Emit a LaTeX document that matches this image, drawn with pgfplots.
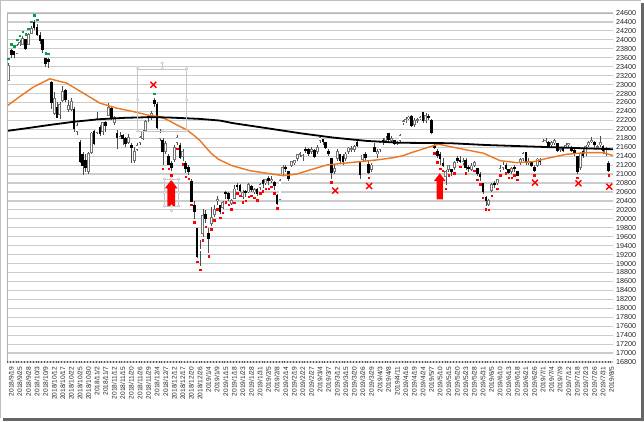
\documentclass[border=0pt]{standalone}
\usepackage{pgfplots}
\usepackage{pgfplotstable}
\pgfplotsset{compat=1.18}
\usepackage{fontspec}
\setmainfont{Liberation Sans}
\definecolor{maorange}{RGB}{237,118,33}
\definecolor{dotgreen}{RGB}{0,160,80}
\pgfplotstableread{
i O H L C G R
-1 23100 23480 23080 23420 1 0
0 23760 23800 23600 23672 1 0
1 23750 23760 23600 23674 1 0
2 23700 23900 23690 23869 1 0
3 23890 23990 23860 23940 1 0
4 23900 24080 23880 24033 1 0
5 24010 24030 23780 23796 1 0
6 23900 24150 23880 24120 1 0
7 24150 24306 24140 24245 1 0
8 24400 24448 24230 24270 1 0
9 24270 24350 24090 24110 1 0
10 24100 24170 23900 23975 0 0
11 24000 24020 23700 23783 0 0
12 23580 23600 23400 23469 1 0
13 23560 23590 23380 23506 1 0
14 23050 23090 22460 22590 0 0
15 22350 22840 22330 22694 0 0
16 22500 22600 22260 22271 0 0
17 22330 22600 22220 22549 0 0
18 22650 22960 22600 22841 0 0
19 22860 22900 22620 22658 0 0
20 22440 22660 22380 22532 0 0
21 22450 22700 22400 22614 0 0
22 22450 22500 21950 22010 0 0
23 21950 22150 21880 22091 0 0
24 21700 21760 21250 21268 0 0
25 21450 21500 20971 21184 0 0
26 21300 21450 21040 21149 0 0
27 21050 21500 21000 21457 0 0
28 21480 21950 21450 21920 0 0
29 21950 21990 21660 21687 0 0
30 21930 22380 21900 22243 0 0
31 22040 22090 21860 21898 0 0
32 21950 22170 21880 22147 0 0
33 22150 22180 21950 22085 0 0
34 22300 22580 22290 22486 0 0
35 22480 22500 22200 22250 0 0
36 22150 22300 22100 22269 0 0
37 21900 21980 21550 21810 0 0
38 21800 21930 21780 21846 0 0
39 21870 21900 21650 21803 0 0
40 21800 21820 21600 21680 0 0
41 21700 21900 21680 21821 0 0
42 21650 21700 21250 21583 0 0
43 21300 21600 21250 21507 0 0
44 21550 21700 21520 21646 0 0
45 21700 21850 21650 21812 0 0
46 21800 21990 21760 21952 0 0
47 21980 22200 21960 22177 0 0
48 22300 22330 22160 22262 0 0
49 22280 22400 22200 22351 0 0
50 22650 22700 22500 22574 1 0
51 22550 22600 22000 22036 0 0
52 21800 22000 21750 21919 0 0
53 21760 21800 21200 21501 0 1
54 21500 21750 21460 21678 0 0
55 21400 21450 21200 21219 0 1
56 21250 21300 21060 21148 0 1
57 21320 21650 21280 21602 0 0
58 21700 21870 21650 21816 0 1
59 21650 21700 21340 21374 0 0
60 21400 21560 21300 21506 0 1
61 21250 21300 21020 21115 0 1
62 21150 21200 20980 21060 0 1
63 20830 20900 20400 20392 0 1
64 20300 20400 20000 20166 0 1
65 19785 19790 19117 19155 0 1
66 19302 19530 18948 19327 0 1
67 19680 20220 19600 20077 0 1
68 20100 20200 19900 20014 0 1
69 19680 19800 19241 19561 0 1
70 19900 20270 19850 20038 0 1
71 20100 20300 20050 20204 0 1
72 20400 20500 20300 20427 0 1
73 20290 20300 20100 20163 0 1
74 20250 20400 20220 20359 0 1
75 20600 20620 20450 20555 0 1
76 20570 20600 20400 20442 0 1
77 20350 20450 20300 20402 0 1
78 20460 20750 20440 20666 0 1
79 20750 20800 20650 20719 0 1
80 20750 20780 20600 20622 0 1
81 20500 20650 20450 20593 0 1
82 20620 20650 20480 20574 0 1
83 20600 20800 20580 20773 0 1
84 20720 20750 20600 20649 0 1
85 20600 20700 20550 20664 0 1
86 20650 20700 20500 20556 0 1
87 20700 20800 20650 20773 0 1
88 20850 20900 20700 20788 0 1
89 20800 20900 20750 20883 0 1
90 20900 20950 20750 20844 0 1
91 20850 20950 20800 20874 0 1
92 20820 20850 20650 20751 0 1
93 20530 20550 20315 20333 0 1
94 20430 20900 20420 20864 0 0
95 21000 21200 20980 21144 0 0
96 21150 21200 21050 21139 0 0
97 21050 21080 20850 20900 0 0
98 21200 21300 21150 21281 0 0
99 21250 21320 21200 21302 0 0
100 21350 21450 21300 21431 0 0
101 21450 21500 21380 21464 0 0
102 21400 21450 21300 21425 0 0
103 21550 21600 21480 21528 0 0
104 21550 21580 21400 21449 0 0
105 21500 21600 21450 21556 0 0
106 21540 21560 21360 21385 0 0
107 21500 21650 21450 21602 0 0
108 21750 21860 21700 21822 0 0
109 21780 21790 21650 21726 0 0
110 21700 21720 21550 21596 0 0
111 21500 21550 21400 21456 0 0
112 21360 21360 20900 21025 0 1
113 21050 21200 21000 21125 0 0
114 21340 21550 21300 21503 0 0
115 21430 21450 21250 21290 0 0
116 21400 21450 21200 21287 0 0
117 21350 21500 21300 21450 0 0
118 21500 21600 21450 21584 0 0
119 21550 21620 21500 21566 0 0
120 21550 21650 21500 21608 0 0
121 21720 21740 21600 21627 0 0
122 21280 21280 20900 20977 0 0
123 21320 21450 21300 21428 0 0
124 21450 21500 21300 21378 0 0
125 21225 21300 21000 21033 0 1
126 21100 21250 21050 21205 0 0
127 21600 21700 21500 21509 0 0
128 21450 21550 21350 21505 0 0
129 21550 21750 21500 21713 0 0
130 21750 21800 21650 21724 0 0
131 21750 21850 21700 21807 0 0
132 21900 21920 21700 21761 0 0
133 21750 21850 21700 21802 0 0
134 21750 21770 21650 21687 0 0
135 21700 21750 21650 21711 0 0
136 21750 21900 21700 21870 0 0
137 22140 22200 22100 22169 0 0
138 22170 22280 22150 22221 0 0
139 22230 22300 22200 22277 0 0
140 22300 22330 22050 22090 0 0
141 22100 22250 22050 22200 0 0
142 22200 22250 22150 22217 0 0
143 22230 22300 22200 22259 0 0
144 22370 22380 22150 22200 0 0
145 22200 22360 22150 22307 0 0
146 22300 22350 22200 22258 0 0
147 22210 22220 21900 21923 0 0
148 21650 21700 21550 21602 0 1
149 21500 21550 21350 21402 0 1
150 21450 21500 21200 21344 0 1
151 21250 21350 21150 21191 0 1
152 20950 21100 20750 21067 0 1
153 21100 21200 21050 21188 0 1
154 21100 21120 20950 21062 0 0
155 21150 21300 21100 21250 0 1
156 21350 21400 21250 21301 0 0
157 21300 21400 21250 21272 0 1
158 21250 21350 21200 21283 0 0
159 21300 21350 21100 21151 0 1
160 21150 21200 21050 21117 0 0
161 21100 21250 21080 21182 0 0
162 21200 21300 21150 21260 0 1
163 21130 21140 20950 21003 0 1
164 21000 21050 20850 20942 0 1
165 20800 20800 20550 20601 0 1
166 20470 20500 20290 20410 0 1
167 20320 20450 20280 20408 0 1
168 20640 20800 20600 20776 0 1
169 20800 20850 20700 20774 0 0
170 20800 20900 20750 20884 0 1
171 21100 21200 21050 21134 0 1
172 21150 21270 21100 21204 0 0
173 21200 21250 21100 21129 0 1
174 21100 21120 21000 21032 0 1
175 21050 21150 21000 21116 0 1
176 21150 21200 21050 21124 0 1
177 21050 21080 20950 20972 0 1
178 21250 21350 21200 21333 0 0
179 21350 21500 21300 21462 0 0
180 21480 21500 21200 21258 0 0
181 21250 21350 21200 21285 0 0
182 21280 21300 21150 21193 0 0
183 21150 21200 21050 21086 0 1
184 21200 21350 21150 21338 0 0
185 21300 21350 21200 21275 0 0
186 21620 21780 21600 21729 0 0
187 21750 21800 21700 21754 0 0
188 21720 21750 21600 21638 0 0
189 21650 21750 21600 21702 0 0
190 21700 21780 21650 21746 0 0
191 21680 21700 21500 21534 0 0
192 21550 21600 21500 21565 0 0
193 21580 21600 21500 21533 0 0
194 21600 21700 21580 21643 0 0
195 21650 21700 21600 21685 0 0
196 21600 21620 21500 21535 0 0
197 21520 21550 21400 21469 0 0
198 21400 21410 21000 21046 0 1
199 21150 21500 21100 21466 0 0
200 21500 21550 21350 21416 0 0
201 21450 21650 21400 21620 0 0
202 21650 21750 21600 21709 0 0
203 21720 21820 21700 21756 0 0
204 21720 21730 21600 21658 0 0
205 21600 21650 21550 21616 0 0
206 21650 21850 21600 21709 0 0
207 21620 21640 21450 21521 0 0
208 21450 21600 21400 21540 0 0
209 21250 21300 21050 21087 0 1
}\candles
\begin{document}
\begin{tikzpicture}[x=1pt,y=1pt]
\useasboundingbox (0,0) rectangle (644,421);
\fill[black!60] (3,0) rectangle (644,418);
\fill[white] (0,3) rectangle (641,421);
\draw[black!25, line width=0.5pt] (0.25,3) -- (0.25,420.75) -- (641,420.75);
\begin{axis}[
  at={(7pt,59pt)}, anchor=south west,
  scale only axis, width=606pt, height=349pt,
  xmin=-1.5, xmax=210.5, ymin=16800, ymax=24600,
  axis line style={draw=none},
  major tick length=0pt,
  xtick={0,3,...,210},
  xticklabels={2018/9/19,2018/9/25,2018/9/28,2018/10/3,2018/10/9,2018/10/12,2018/10/17,2018/10/22,2018/10/25,2018/10/30,2018/11/2,2018/11/7,2018/11/12,2018/11/15,2018/11/20,2018/11/26,2018/11/29,2018/12/4,2018/12/7,2018/12/12,2018/12/17,2018/12/20,2018/12/26,2019/1/4,2019/1/9,2019/1/15,2019/1/18,2019/1/23,2019/1/28,2019/1/31,2019/2/5,2019/2/8,2019/2/14,2019/2/19,2019/2/22,2019/2/27,2019/3/4,2019/3/7,2019/3/12,2019/3/15,2019/3/20,2019/3/26,2019/3/29,2019/4/3,2019/4/8,2019/4/11,2019/4/16,2019/4/19,2019/4/24,2019/5/7,2019/5/10,2019/5/15,2019/5/20,2019/5/23,2019/5/28,2019/5/31,2019/6/5,2019/6/10,2019/6/13,2019/6/18,2019/6/21,2019/6/26,2019/7/1,2019/7/4,2019/7/9,2019/7/12,2019/7/18,2019/7/23,2019/7/26,2019/7/31,2019/8/5},
  x tick label style={rotate=90, anchor=east, font=\fontsize{6.6}{7}\selectfont, text=black!85, inner xsep=4.5pt, inner ysep=0pt},
  ytick={16800,17000,...,24600},
  yticklabel pos=right,
  scaled y ticks=false,
  /pgf/number format/1000 sep={},
  /pgf/number format/assume math mode=true,
  y tick label style={anchor=west, font=\fontsize{7.2}{8}\selectfont, text=black!85, inner xsep=3pt},
  ymajorgrids,
  major grid style={gray!40, line width=1.2pt},
  clip=true,
]
% wicks
\addplot[draw=none, mark=none, forget plot, error bars/.cd, y dir=both, y explicit, error mark=none,
  error bar style={draw=black!70, line width=0.5pt}]
  table[x=i, y expr={(\thisrow{H}+\thisrow{L})/2}, y error expr={(\thisrow{H}-\thisrow{L})/2}] {\candles};
% white bodies: outline
\addplot[draw=none, mark=none, forget plot, restrict y to domain=10000:30000, error bars/.cd, y dir=both, y explicit, error mark=none,
  error bar style={draw=black!55, line width=2.8pt}]
  table[x=i, y expr={(\thisrow{O}+\thisrow{C})/2 + 10000*(abs(\thisrow{O}-\thisrow{C})-(\thisrow{C}-\thisrow{O}))}, y error expr={abs(\thisrow{O}-\thisrow{C})/2+9}] {\candles};
% white bodies: inside
\addplot[draw=none, mark=none, forget plot, restrict y to domain=10000:30000, error bars/.cd, y dir=both, y explicit, error mark=none,
  error bar style={draw=white, line width=1.2pt}]
  table[x=i, y expr={(\thisrow{O}+\thisrow{C})/2 + 10000*(abs(\thisrow{O}-\thisrow{C})-(\thisrow{C}-\thisrow{O}))}, y error expr={max(abs(\thisrow{O}-\thisrow{C})/2-10,0)}] {\candles};
% black bodies
\addplot[draw=none, mark=none, forget plot, restrict y to domain=10000:30000, error bars/.cd, y dir=both, y explicit, error mark=none,
  error bar style={draw=black, line width=2.6pt}]
  table[x=i, y expr={(\thisrow{O}+\thisrow{C})/2 + 10000*(abs(\thisrow{O}-\thisrow{C})-(\thisrow{O}-\thisrow{C}))}, y error expr={abs(\thisrow{O}-\thisrow{C})/2+8}] {\candles};
% 25-day average
\addplot[maorange, line width=1.4pt, mark=none] coordinates {
(-1.5,22523) (3,22733) (7.7,22943) (13.5,23129) (19.4,23032) (25.2,22809) (31,22585) (36.9,22473) (42.7,22397) (48.5,22308) (52,22285) (55,22200) (57.9,22099) (61.4,21988) (64,21860) (66,21750) (68,21600) (70,21460) (72.5,21330) (77.2,21188) (83.5,21076) (89.4,21018) (95.2,20964) (99.9,21002) (104.5,21092) (110.4,21204) (116.2,21242) (122,21278) (127.9,21316) (133.7,21367) (137,21410) (140,21480) (143,21540) (147.7,21636) (149.4,21667) (153.5,21614) (159.3,21540) (165.2,21466) (171,21300) (176.8,21256) (182.7,21278) (188.5,21367) (194.3,21443) (201.3,21479) (207.1,21479) (210.5,21413)};
% long average
\addplot[black, line width=1.8pt, mark=none] coordinates {
(-1.5,21965) (6,22030) (13.5,22099) (22,22170) (31,22227) (40,22258) (48.5,22272) (55,22265) (60.2,22250) (66,22233) (73,22196) (77.7,22137) (89.4,22026) (101,21913) (112.7,21815) (124.4,21741) (136,21700) (153.6,21690) (166,21650) (182.7,21614) (210.5,21555)};
% dots
\addplot[only marks, mark=square*, mark size=0.75pt, red, restrict y to domain=10000:30000]
  table[x=i, y expr={\thisrow{L}-80+100000*(1-\thisrow{R})}] {\candles};
\addplot[only marks, mark=square*, mark size=0.75pt, dotgreen, restrict y to domain=10000:30000]
  table[x=i, y expr={\thisrow{H}+100+100000*(1-\thisrow{G})}] {\candles};
% crosses
\addplot[only marks, mark=x, mark size=4.2pt, red, line width=1.4pt] coordinates {
(49.7,22995) (113.3,20630) (125.2,20734) (183.2,20808) (198.4,20794) (209.2,20719)};
% arrows
\fill[red] (axis cs:55.95,20868) -- (axis cs:53.75,20683) -- (axis cs:54.6,20683) -- (axis cs:54.6,20286) -- (axis cs:57.3,20286) -- (axis cs:57.3,20683) -- (axis cs:58.15,20683) -- cycle;
\fill[red] (axis cs:149.9,21018) -- (axis cs:147.8,20840) -- (axis cs:148.8,20840) -- (axis cs:148.8,20436) -- (axis cs:151.0,20436) -- (axis cs:151.0,20840) -- (axis cs:152.0,20840) -- cycle;
% selection boxes
\draw[gray!45, line width=0.5pt] (axis cs:44.23,23353) rectangle (axis cs:61.38,21965);
\draw[gray!45, line width=0.5pt] (axis cs:52.8,23353) -- (axis cs:52.8,23481);
\draw[gray!55, fill=white, line width=0.4pt] (axis cs:44.23,23353) circle (1.3pt) (axis cs:52.8,23353) circle (1.3pt) (axis cs:61.38,23353) circle (1.3pt) (axis cs:44.23,22659) circle (1.3pt) (axis cs:61.38,22659) circle (1.3pt) (axis cs:44.23,21965) circle (1.3pt) (axis cs:52.8,21965) circle (1.3pt) (axis cs:61.38,21965) circle (1.3pt) (axis cs:52.8,23481) circle (1.3pt);
\draw[gray!45, line width=0.5pt] (axis cs:53.54,20891) rectangle (axis cs:58.58,20286);
\draw[gray!55, fill=white, line width=0.4pt] (axis cs:53.54,20891) circle (1.3pt) (axis cs:56.06,20891) circle (1.3pt) (axis cs:58.58,20891) circle (1.3pt) (axis cs:53.54,20588) circle (1.3pt) (axis cs:58.58,20588) circle (1.3pt) (axis cs:53.54,20286) circle (1.3pt) (axis cs:56.06,20286) circle (1.3pt) (axis cs:58.58,20286) circle (1.3pt) (axis cs:56.06,20182) circle (1.3pt);
% frame
\draw[gray!60, line width=1pt] (rel axis cs:0,0) -- (rel axis cs:0,1) -- (rel axis cs:1,1) -- (rel axis cs:1,0);
\draw[black!65, line width=1.1pt, dash pattern=on 1pt off 1.86pt] (rel axis cs:0,0) -- (rel axis cs:1,0);
\end{axis}
\end{tikzpicture}
\end{document}
